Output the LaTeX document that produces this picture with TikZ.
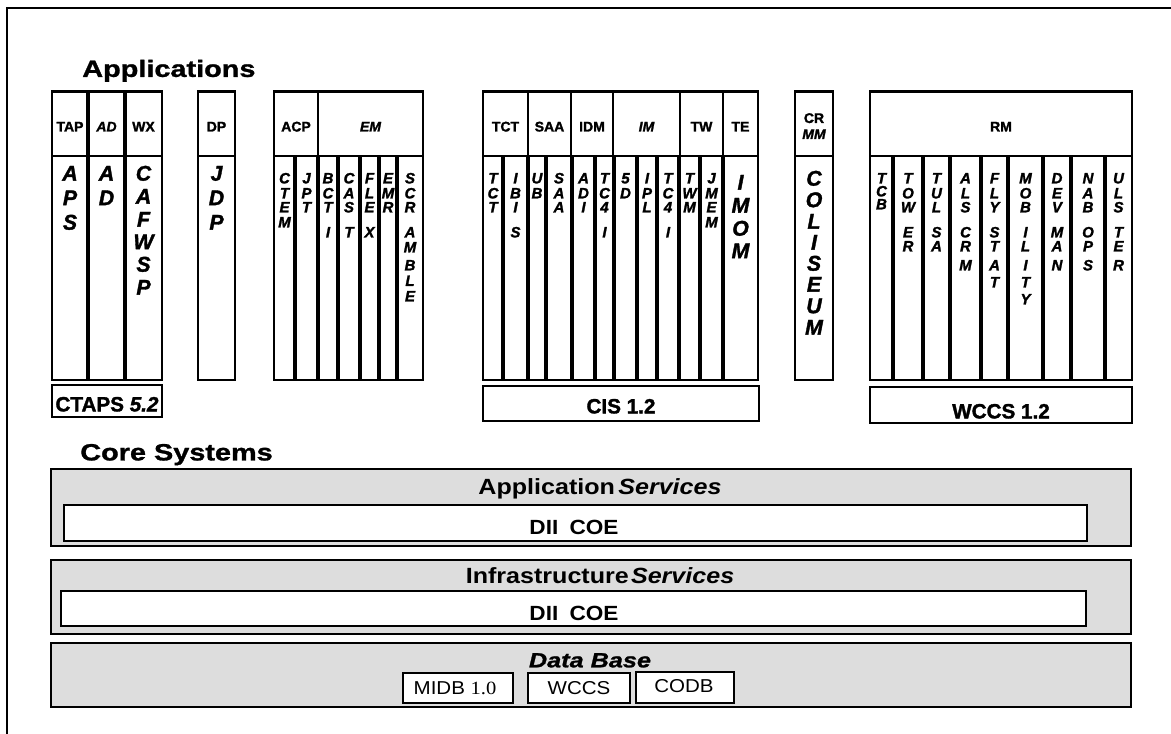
\documentclass[tikz,border=0pt]{standalone}
\usepackage{fontspec}
\setmainfont{Liberation Sans}
\newfontfamily\heavy[FakeBold=1.6]{Liberation Sans}
\newfontfamily\wideA[FakeStretch=1.23,FakeBold=1.2]{Liberation Sans}
\newfontfamily\wideB[FakeStretch=1.14]{Liberation Sans}
\newfontfamily\wideC[FakeStretch=1.1]{Liberation Sans}
\newfontfamily\serifC[FakeStretch=1.1]{Liberation Serif}
\newcommand\colword[4]{\foreach \yy/\ch [count=\k] in {#4}{\node[#3] (#1-\k) at (#2,\yy) {\ch};}}
\begin{document}
\begin{tikzpicture}[x=0.75pt,y=-0.75pt,
  box/.style={draw=black,line width=1.8pt},
  divl/.style={draw=black,line width=2.4pt},
  gbox/.style={draw=black,line width=1.8pt,fill=gray!27},
  wbox/.style={draw=black,line width=1.6pt,fill=white},
  hdr/.style={font=\heavy\fontsize{10.5}{12}\selectfont\bfseries,inner sep=0pt,text height=7.5pt,text depth=0pt},
  sl/.style={font=\heavy\fontsize{11.25}{13}\selectfont\bfseries\itshape,inner sep=0pt,text height=8.1pt,text depth=0pt},
  bl/.style={font=\heavy\fontsize{16}{18}\selectfont\bfseries\itshape,inner sep=0pt,text height=11.5pt,text depth=0pt},
  lab/.style={font=\heavy\fontsize{15.5}{18}\selectfont\bfseries,inner sep=0pt,text height=11.1pt,text depth=0pt},
  title/.style={font=\wideA\fontsize{17.6}{20}\selectfont\bfseries,inner sep=0pt,text height=12.6pt,text depth=0pt},
  svc/.style={font=\wideB\fontsize{16.5}{19}\selectfont\bfseries,inner sep=0pt,text height=11.8pt,text depth=0pt},
  dii/.style={font=\wideC\fontsize{15.4}{18}\selectfont\bfseries,inner sep=0pt,text height=11pt,text depth=0pt},
  dbt/.style={font=\wideA\fontsize{15.4}{18}\selectfont\bfseries\itshape,inner sep=0pt,text height=11pt,text depth=0pt},
  dbs/.style={font=\wideC\fontsize{14}{16}\selectfont,inner sep=0pt,text height=10pt,text depth=0pt}]
\useasboundingbox (0,0) rectangle (1171,734);
\fill[white] (0,0) rectangle (1171,734);
% outer frame (only top and left visible)
\draw[line width=1.3pt] (7,740) -- (7,8) -- (1180,8);

% titles
\node[title,anchor=west] (apps) at (82,68.5) {Applications};
\node[title,anchor=west] (core) at (80,452) {Core Systems};

% ---------- TAP / AD / WX group ----------
\draw[box] (52,91.5) rectangle (162,380);
\draw[box] (52,156) -- (162,156);
\draw[divl] (88,91.5) -- (88,380);
\draw[divl] (125,91.5) -- (125,380);
\node[hdr] (tap) at (70,126.5) {TAP};
\node[hdr] (ad) at (106.5,126.5) {\itshape AD};
\node[hdr] (wx) at (143.5,126.5) {WX};
\colword{aps}{70}{bl}{173/A,197.5/P,222/S}
\colword{adc}{106.5}{bl}{173/A,197.5/D}
\colword{cafwsp}{143.5}{bl}{173/C,196/A,219/F,241.5/W,264/S,287/P}
\draw[box] (52,385) rectangle (162,417);
\node[lab] (ctaps) at (107,404) {CTAPS \textit{5.2}};

% ---------- DP ----------
\draw[box] (198,91.5) rectangle (235,380);
\draw[box] (198,156) -- (235,156);
\node[hdr] (dp) at (216.5,126.5) {DP};
\colword{jdp}{216.5}{bl}{173/J,197.5/D,222/P}

% ---------- ACP / EM ----------
\draw[box] (274,91.5) rectangle (423,380);
\draw[box] (274,156) -- (423,156);
\draw[box] (318,91.5) -- (318,156);
\foreach \xx in {295,318,338,360,379,397}{\draw[divl] (\xx,156) -- (\xx,380);}
\node[hdr] (acp) at (296,126.5) {ACP};
\node[hdr] (em) at (370.5,126.5) {\itshape EM};
\colword{ctem}{284.5}{sl}{178/C,193/T,207/E,222/M}
\colword{jpt}{306.5}{sl}{178/J,193/P,207/T}
\colword{bcti}{328}{sl}{178/B,193/C,207/T,232/I}
\colword{cast}{349}{sl}{178/C,193/A,207/S,232/T}
\colword{flex}{369.5}{sl}{178/F,193/L,207/E,232/X}
\colword{emr}{388}{sl}{178/E,193/M,207/R}
\colword{scramble}{410}{sl}{178/S,193/C,207/R,232/A,247/M,265/B,280.5/L,296/E}

% ---------- CIS group ----------
\draw[box] (483,91.5) rectangle (758,380);
\draw[box] (483,156) -- (758,156);
\foreach \xx in {528,571,613,680,723}{\draw[box] (\xx,91.5) -- (\xx,156);}
\foreach \xx in {503,528,546,572,595,614,637,657,679,700,723}{\draw[divl] (\xx,156) -- (\xx,380);}
\node[hdr] (tct) at (505.5,126.5) {TCT};
\node[hdr] (saa) at (549.5,126.5) {SAA};
\node[hdr] (idm) at (592,126.5) {IDM};
\node[hdr] (im) at (646.5,126.5) {\itshape IM};
\node[hdr] (tw) at (701.5,126.5) {TW};
\node[hdr] (te) at (740.5,126.5) {TE};
\colword{tctc}{493}{sl}{178/T,193/C,207/T}
\colword{ibis}{515.5}{sl}{178/I,193/B,207/I,232/S}
\colword{ub}{537}{sl}{178/U,193/B}
\colword{saac}{559}{sl}{178/S,193/A,207/A}
\colword{adi}{583.5}{sl}{178/A,193/D,207/I}
\colword{tcfa}{604.5}{sl}{178/T,193/C,207/4,232/I}
\colword{fived}{625.5}{sl}{178/5,193/D}
\colword{ipl}{647}{sl}{178/I,193/P,207/L}
\colword{tcfb}{668}{sl}{178/T,193/C,207/4,232/I}
\colword{twm}{689.5}{sl}{178/T,193/W,207/M}
\colword{jmem}{711.5}{sl}{178/J,193/M,207/E,222/M}
\colword{imom}{740.5}{bl}{182/I,205/M,228/O,250.5/M}
\draw[box] (483,386) rectangle (759,421);
\node[lab] (cis) at (621,406) {CIS 1.2};

% ---------- CR MM ----------
\draw[box] (795,91.5) rectangle (833,380);
\draw[box] (795,156) -- (833,156);
\node[hdr] (cr) at (814,118) {CR};
\node[hdr] (mm) at (814,134) {\itshape MM};
\colword{coliseum}{814}{bl}{178/C,199.5/O,221/L,242/I,263/S,284/E,305.5/U,327/M}

% ---------- RM group ----------
\draw[box] (870,91.5) rectangle (1132,380);
\draw[box] (870,156) -- (1132,156);
\foreach \xx in {893,923,950,981,1008,1043,1071,1105}{\draw[divl] (\xx,156) -- (\xx,380);}
\node[hdr] (rm) at (1001,126.5) {RM};
\colword{tcb}{881.5}{sl}{178/T,191/C,204/B}
\colword{tower}{908}{sl}{178/T,193/O,207/W,232/E,246/R}
\colword{tulsa}{936.5}{sl}{178/T,193/U,207/L,232/S,246/A}
\colword{alscrm}{965.5}{sl}{178/A,193/L,207/S,232/C,246/R,265/M}
\colword{flystat}{994.5}{sl}{178/F,193/L,207/Y,232/S,246/T,265/A,282/T}
\colword{mobility}{1025.5}{sl}{178/M,193/O,207/B,232/I,246/L,265/I,282/T,299/Y}
\colword{devman}{1057}{sl}{178/D,193/E,207/V,232/M,246/A,265/N}
\colword{nabops}{1088}{sl}{178/N,193/A,207/B,232/O,246/P,265/S}
\colword{ulster}{1118.5}{sl}{178/U,193/L,207/S,232/T,246/E,265/R}
\draw[box] (870,387) rectangle (1132,423);
\node[lab] (wccsa) at (1001,411) {WCCS 1.2};

% ---------- Core systems ----------
\draw[gbox] (51,469) rectangle (1131,546);
\draw[wbox] (64,505) rectangle (1087,541);
\node[svc] (appsvc) at (600,487) {Application\hspace{0.15em}\textit{Services}};
\node[dii] (diia) at (574,527) {DII\hspace{0.55em}COE};

\draw[gbox] (51,560) rectangle (1131,634);
\draw[wbox] (61,591) rectangle (1086,626);
\node[svc] (infsvc) at (600,576) {Infrastructure\hspace{0.1em}\textit{Services}};
\node[dii] (diib) at (574,613) {DII\hspace{0.55em}COE};

\draw[gbox] (51,643) rectangle (1131,707);
\node[dbt] (dbase) at (590,660) {Data Base};
\draw[wbox] (403,673) rectangle (513,703);
\draw[wbox] (528,673) rectangle (630,703);
\draw[wbox] (636,672) rectangle (734,703);
\node[dbs] (midb) at (455,688) {MIDB {\serifC 1.0}};
\node[dbs] (wccsb) at (579,688) {WCCS};
\node[dbs] (codb) at (684,686) {CODB};
\end{tikzpicture}
\end{document}
